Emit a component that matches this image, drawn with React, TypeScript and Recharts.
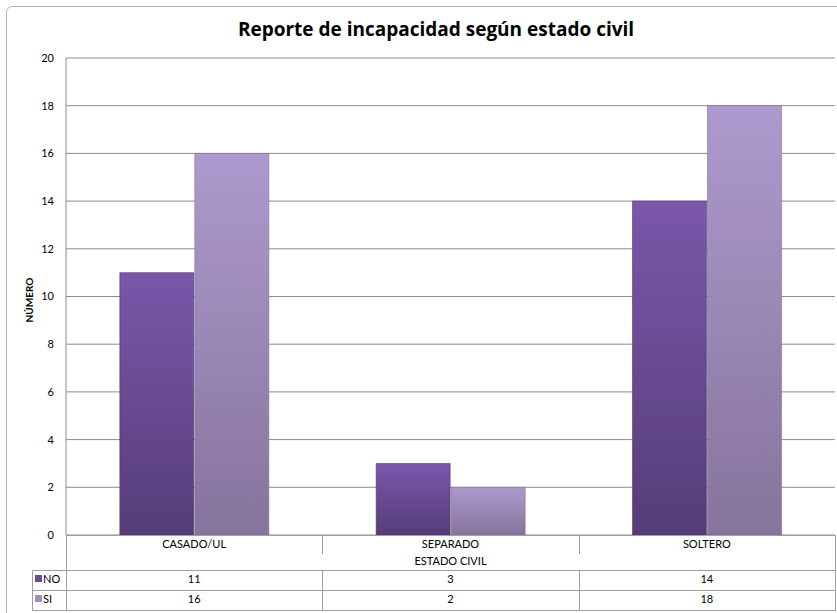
import { BarChart, Bar, XAxis, YAxis, CartesianGrid } from "recharts";

const categories = ["CASADO/UL", "SEPARADO", "SOLTERO"];
const noValues = [11, 3, 14];
const siValues = [16, 2, 18];
const yTicks = [0, 2, 4, 6, 8, 10, 12, 14, 16, 18, 20];

const data = categories.map((c, i) => ({ name: c, no: noValues[i], si: siValues[i] }));

const FONT = "Lato, 'Open Sans', sans-serif";
const PLOT_L = 66;
const PLOT_R = 835;
const PLOT_B = 535;
const colW = (PLOT_R - PLOT_L) / categories.length;
const lineColor = "#a0a0a0";

const series = [
    { key: "NO", values: noValues, color: "#6a4c94" },
    { key: "SI", values: siValues, color: "#9f8fbd" },
];

export default function App() {
    return (
        <div style={{ position: "absolute", left: 0, top: 0, width: 837, height: 613, background: "#fff", overflow: "hidden", fontFamily: FONT }}>
            <div style={{ position: "absolute", left: 6, top: 6, width: 850, height: 640, border: "1px solid #b5b5b5", borderRadius: 6 }} />
            <div style={{ position: "absolute", left: 0, top: 16, width: 872, textAlign: "center", fontSize: 19, fontWeight: 700, color: "#000", fontFamily: "'Open Sans', sans-serif" }}>
                Reporte de incapacidad según estado civil
            </div>
            <div style={{ position: "absolute", left: 29, top: 300, transform: "translate(-50%, -50%) rotate(-90deg)", fontSize: 10, fontWeight: 700 }}>
                NÚMERO
            </div>
            <div style={{ position: "absolute", left: 0, top: 0 }}>
                <BarChart width={837} height={546} data={data} margin={{ top: 58, right: 2, left: 0, bottom: 11 }} barCategoryGap="21%" barGap={1}>
                    <defs>
                        <linearGradient id="gNo" x1="0" y1="0" x2="0" y2="1">
                            <stop offset="0%" stopColor="#7a57aa" />
                            <stop offset="100%" stopColor="#553d78" />
                        </linearGradient>
                        <linearGradient id="gSi" x1="0" y1="0" x2="0" y2="1">
                            <stop offset="0%" stopColor="#ad9ace" />
                            <stop offset="100%" stopColor="#85749b" />
                        </linearGradient>
                    </defs>
                    <CartesianGrid vertical={false} stroke="#8c8c8c" strokeWidth={1} />
                    <XAxis dataKey="name" hide />
                    <YAxis
                        width={66}
                        domain={[0, 20]}
                        ticks={yTicks}
                        interval={0}
                        tickLine={false}
                        axisLine={{ stroke: "#8c8c8c" }}
                        tickMargin={6}
                        tick={{ fontSize: 11, fill: "#000", fontFamily: FONT }}
                    />
                    <Bar dataKey="no" fill="url(#gNo)" stroke="#4e3870" strokeWidth={0.6} isAnimationActive={false} />
                    <Bar dataKey="si" fill="url(#gSi)" stroke="#7f6f96" strokeWidth={0.6} isAnimationActive={false} />
                </BarChart>
            </div>
            {/* data table */}
            <div style={{ position: "absolute", left: PLOT_L, top: PLOT_B, width: PLOT_R - PLOT_L, height: 1, background: lineColor }} />
            <div style={{ position: "absolute", left: PLOT_L, top: PLOT_B, width: 1, height: 75, background: lineColor }} />
            <div style={{ position: "absolute", left: 32, top: 570, width: PLOT_R - 32, height: 1, background: lineColor }} />
            <div style={{ position: "absolute", left: 32, top: 590, width: PLOT_R - 32, height: 1, background: lineColor }} />
            <div style={{ position: "absolute", left: 32, top: 610, width: PLOT_R - 32, height: 1, background: lineColor }} />
            <div style={{ position: "absolute", left: 32, top: 570, width: 1, height: 41, background: lineColor }} />
            <div style={{ position: "absolute", left: PLOT_R, top: PLOT_B, width: 1, height: 76, background: lineColor }} />
            {categories.map((c, i) => (
                <div key={c}>
                    {i > 0 && (
                        <>
                            <div style={{ position: "absolute", left: PLOT_L + colW * i, top: PLOT_B, width: 1, height: 19, background: lineColor }} />
                            <div style={{ position: "absolute", left: PLOT_L + colW * i, top: 570, width: 1, height: 41, background: lineColor }} />
                        </>
                    )}
                    <div style={{ position: "absolute", left: PLOT_L + colW * i, top: PLOT_B + 2, width: colW, textAlign: "center", fontSize: 11 }}>{c}</div>
                    {series.map((s, r) => (
                        <div key={s.key} style={{ position: "absolute", left: PLOT_L + colW * i, top: 572 + r * 20, width: colW, textAlign: "center", fontSize: 11 }}>
                            {s.values[i]}
                        </div>
                    ))}
                </div>
            ))}
            <div style={{ position: "absolute", left: PLOT_L, top: 554, width: PLOT_R - PLOT_L, textAlign: "center", fontSize: 11 }}>ESTADO CIVIL</div>
            {series.map((s, r) => (
                <div key={s.key} style={{ position: "absolute", left: 35, top: 572 + r * 20, fontSize: 11, display: "flex", alignItems: "center" }}>
                    <span style={{ display: "inline-block", width: 7, height: 7, background: s.color, marginRight: 1 }} />
                    {s.key}
                </div>
            ))}
        </div>
    );
}
